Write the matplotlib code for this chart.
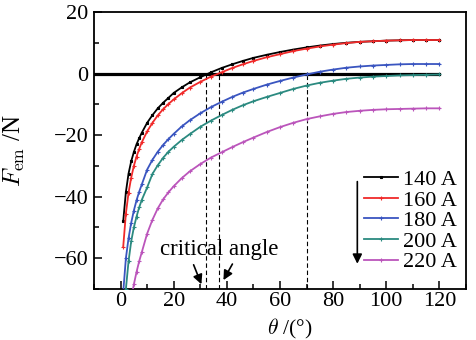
import numpy as np
import matplotlib
matplotlib.use("Agg")
import matplotlib.pyplot as plt
from matplotlib.ticker import MultipleLocator

plt.rcParams['font.family'] = ['Liberation Serif', 'DejaVu Serif']
plt.rcParams['mathtext.fontset'] = 'cm'

nan = np.nan
# angle (deg) where values were read
theta = [1, 2, 3, 4, 5, 6, 7, 8, 10, 12, 14, 16, 18, 20, 23, 26, 30, 34, 38, 42,
         46, 50, 55, 60, 65, 70, 75, 80, 85, 90, 95, 100, 105, 110, 115, 120]

f140 = [-47.9, -38.5, -32.5, -28.5, -25.5, -23.0, -21.0, -19.2, -16.0, -13.5, -11.3,
        -9.5, -7.9, -6.3, -4.5, -2.9, -1.2, 0.4, 1.8, 3.0, 4.1, 5.1, 6.1, 7.0, 7.8,
        8.5, 9.1, 9.6, 10.0, 10.3, 10.5, 10.7, 10.8, 10.9, 10.9, 10.9]
f160 = [-56.2, -45.5, -38.7, -33.8, -30.0, -27.0, -24.5, -22.3, -18.8, -16.0, -13.6,
        -11.6, -9.9, -8.4, -6.4, -4.6, -2.7, -1.0, 0.4, 1.8, 3.0, 4.1, 5.3, 6.3, 7.3,
        8.1, 8.8, 9.4, 9.9, 10.3, 10.5, 10.7, 10.8, 10.9, 10.9, 10.9]
f180 = [-71.0, -60.0, -53.5, -48.5, -44.5, -41.2, -38.4, -36.0, -31.2, -28.0, -25.4,
        -23.2, -21.3, -19.6, -17.2, -15.2, -12.9, -10.9, -9.2, -7.6, -6.2, -5.0, -3.6,
        -2.4, -1.3, -0.3, 0.6, 1.3, 1.9, 2.3, 2.6, 2.8, 3.0, 3.1, 3.1, 3.1]
f200 = [nan, -70.0, -61.0, -54.5, -50.0, -46.5, -43.5, -41.0, -37.0, -32.6, -29.8,
        -27.4, -25.4, -23.8, -21.6, -19.7, -17.3, -15.3, -13.5, -11.8, -10.3, -9.0,
        -7.6, -6.3, -5.0, -3.9, -3.0, -2.3, -1.7, -1.3, -1.0, -0.8, -0.6, -0.5, -0.4, -0.3]
f220 = [nan, nan, nan, -73.0, -68.5, -64.5, -61.0, -58.0, -52.0, -47.5, -43.8,
        -40.9, -38.6, -36.6, -34.0, -31.8, -29.4, -27.3, -25.6, -23.9, -22.3, -20.8,
        -19.0, -17.4, -16.0, -14.8, -13.9, -13.1, -12.5, -12.1, -11.8, -11.6, -11.5,
        -11.4, -11.3, -11.3]

labels = ['140 A', '160 A', '180 A', '200 A', '220 A']
colors = ['black', '#f02a2a', '#3a55c0', '#2b8a80', '#bb55bb']
markers = ['s', '+', '+', '+', '+']
critical = [32, 37, 70]
critical_top = [0, 1, 0.5]

fig = plt.figure(figsize=(4.76, 3.4), dpi=100)
ax = fig.add_axes([94/476, 1-289/340, 372/476, 277/340])

ax.plot([-10, 120], [0, 0], color='black', lw=2.3, zorder=1)
for x, top in zip(critical, critical_top):
    ax.plot([x, x], [-70, top], color='black', lw=0.8, ls=(0, (4, 2.5)), zorder=1)

for ys, lab, c, m in zip([f140, f160, f180, f200, f220], labels, colors, markers):
    ax.plot(theta, ys, color=c, lw=1.3, marker=m, ms=2.0 if m == 's' else 3.5,
            mew=0.8, label=lab, zorder=3)

ax.set_xlim(-10, 130)
ax.set_ylim(-70, 20)
ax.xaxis.set_major_locator(MultipleLocator(20))
ax.xaxis.set_minor_locator(MultipleLocator(10))
ax.yaxis.set_major_locator(MultipleLocator(20))
ax.yaxis.set_minor_locator(MultipleLocator(10))
ax.tick_params(which='both', direction='in', top=False, right=False,
               labelsize=16, width=1.1)
ax.tick_params(which='major', length=6, pad=4)
ax.tick_params(axis='x', which='major', pad=2.5)
ax.tick_params(which='minor', length=3.5)
for s in ax.spines.values():
    s.set_linewidth(1.3)
ax.set_yticks([20, 0, -20, -40, -60])
ax.set_yticklabels(['20', '0', '\u221220', '\u221240', '\u221260'])

ax.set_xlabel(r'$\theta$ /(°)', fontsize=15.5)
ax.xaxis.set_label_coords(0.527, -0.1)
ax.set_ylabel(r'$F_{\rm em}$ /N', fontsize=18)
ax.yaxis.set_label_coords(-0.18, 0.5)

ax.text(37.2, -57.3, 'critical angle', fontsize=16.5, ha='center', va='center')
ax.annotate('', xy=(30.8, -69.3), xytext=(27.1, -61.3),
            arrowprops=dict(arrowstyle='-|>', color='black', lw=1.2, mutation_scale=14))
ax.annotate('', xy=(38.2, -67.9), xytext=(42.6, -61.1),
            arrowprops=dict(arrowstyle='-|>', color='black', lw=1.2, mutation_scale=14))
ax.annotate('', xy=(89.1, -62.7), xytext=(89.1, -34.2),
            arrowprops=dict(arrowstyle='-|>', color='black', lw=1.2, mutation_scale=14))

leg = ax.legend(loc='lower right', bbox_to_anchor=(0.976, 0.06), frameon=False,
                fontsize=16, handlelength=1.5, handletextpad=0.25,
                labelspacing=0.0, borderpad=0, borderaxespad=0, numpoints=1)

fig.savefig('out.png', dpi=100)
